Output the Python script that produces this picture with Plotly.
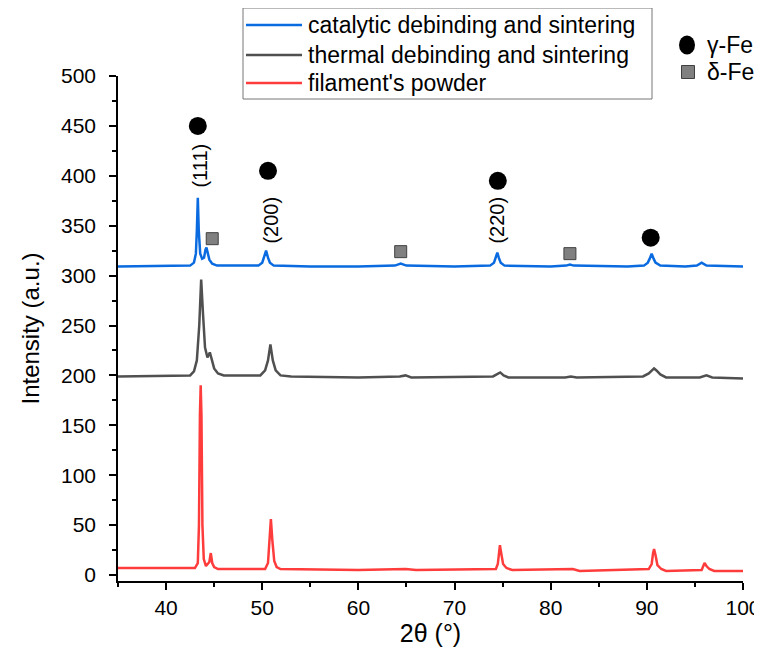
import plotly.graph_objects as go

# ---- data ----
blue_x = [35, 42.5, 42.9, 43.1, 43.2, 43.3, 43.4, 43.55, 43.75, 43.95, 44.1, 44.2, 44.3, 44.5, 44.8, 45.3,
          47, 49.6, 50.0, 50.2, 50.4, 50.6, 50.8, 51.2, 55, 60, 63.8, 64.4, 65.0, 70, 73.7, 74.1, 74.3,
          74.45, 74.6, 74.8, 75.2, 80, 81.6, 82.0, 82.4, 88, 89.7, 90.1, 90.3, 90.5, 90.7, 90.9, 91.4,
          94, 95.2, 95.7, 96.2, 100]
blue_y = [309, 310, 313, 322, 345, 378, 345, 322, 317, 318, 326, 328, 324, 316, 312, 310,
          310, 310, 313, 318, 325, 318, 313, 310, 309, 309, 310, 312, 310, 309, 310, 313, 318,
          323, 318, 313, 310, 309, 310, 311, 310, 309, 310, 313, 317, 322, 317, 313, 310,
          309, 310, 313, 310, 309]

gray_x = [35, 42.5, 42.9, 43.2, 43.45, 43.65, 43.85, 44.05, 44.3, 44.55, 44.75, 45.0, 45.4, 46, 49.8, 50.3,
          50.6, 50.85, 51.1, 51.4, 51.9, 53, 60, 64.3, 64.9, 65.5, 74.0, 74.4, 74.75, 75.1, 75.6, 81.5,
          82.1, 82.7, 89.6, 90.2, 90.5, 90.75, 91.0, 91.4, 92, 95.5, 96.2, 96.8, 100]
gray_y = [199, 200, 204, 215, 250, 296, 260, 228, 218, 223, 216, 207, 202, 200, 200, 205,
          215, 231, 215, 205, 200, 199, 198, 199, 200, 198, 199, 201, 203, 200, 198, 198,
          199, 198, 199, 202, 205, 207, 205, 201, 198, 198, 200, 198, 197]

red_x = [35, 43.0, 43.3, 43.42, 43.52, 43.6, 43.68, 43.78, 43.92, 44.15, 44.5, 44.65, 44.8, 45.0, 45.4, 50.3,
         50.6, 50.75, 50.9, 51.05, 51.25, 51.5, 51.9, 60, 64.9, 66, 74.3, 74.5, 74.62, 74.72, 74.85,
         75.05, 75.4, 76, 82.3, 83, 90.2, 90.5, 90.65, 90.75, 90.9, 91.1, 91.5, 92, 95.7, 95.9, 96.0,
         96.2, 96.5, 97, 100]
red_y = [7, 7, 12, 50, 160, 190, 160, 50, 16, 9, 13, 22, 12, 8, 6, 6,
         12, 35, 56, 35, 14, 8, 6, 5, 6, 5, 6, 11, 24, 30, 22, 11, 7, 5, 6, 4, 6, 11, 22, 26, 20,
         10, 6, 4, 5, 9, 12, 9, 6, 4, 4]

gamma_x = [43.3, 50.6, 74.5, 90.4]
gamma_y = [450, 405, 395, 338]
delta_x = [44.8, 64.4, 82.0]
delta_y = [337, 324, 322]

hkl_labels = ["(111)", "(200)", "(220)"]
hkl_x = [43.5, 50.9, 74.4]
hkl_y = [410, 356, 356]

series_names = ["catalytic debinding and sintering", "thermal debinding and sintering", "filament's powder"]
series_colors = ["#0a6be0", "#505050", "#ff3c3c"]
phase_names = ["γ-Fe", "δ-Fe"]

FONT = "Liberation Sans, Arial, sans-serif"

# plot-area geometry (screen px) used to place the hand-drawn legend in paper coordinates
PX0, PW, PY0, PH = 118, 625, 581, 505
def px(x):
    return (x - PX0) / PW
def py(y):
    return (PY0 - y) / PH

fig = go.Figure()
for nm, xs, ys, c in zip(series_names, [blue_x, gray_x, red_x], [blue_y, gray_y, red_y], series_colors):
    fig.add_trace(go.Scatter(x=xs, y=ys, mode="lines", name=nm, line=dict(color=c, width=2.5)))

fig.add_trace(go.Scatter(x=gamma_x, y=gamma_y, mode="markers", name=phase_names[0],
                         marker=dict(symbol="circle", size=18, color="black")))
fig.add_trace(go.Scatter(x=delta_x, y=delta_y, mode="markers", name=phase_names[1],
                         marker=dict(symbol="square", size=12, color="#808080",
                                     line=dict(color="#404040", width=1))))

for t, x, y in zip(hkl_labels, hkl_x, hkl_y):
    fig.add_annotation(x=x, y=y, text=t, textangle=-90, showarrow=False,
                       font=dict(family=FONT, size=20, color="black"))

# ---- legend box for the three patterns ----
shapes = [dict(type="rect", xref="paper", yref="paper", x0=px(243), x1=px(652), y0=py(99), y1=py(8),
               line=dict(color="#777777", width=1), fillcolor="white", layer="above")]
row_y = [25, 55, 83]
for nm, c, ry in zip(series_names, series_colors, row_y):
    shapes.append(dict(type="line", xref="paper", yref="paper", x0=px(246), x1=px(302), y0=py(ry), y1=py(ry),
                       line=dict(color=c, width=2.5), layer="above"))
    fig.add_annotation(xref="paper", yref="paper", x=px(306), y=py(ry), text=nm, showarrow=False,
                       xanchor="left", yanchor="middle", font=dict(family=FONT, size=23, color="black"))

# ---- legend for phases ----
shapes.append(dict(type="circle", xref="paper", yref="paper", xsizemode="pixel", ysizemode="pixel",
                   xanchor=px(687), yanchor=py(45), x0=-8, x1=8, y0=-9.5, y1=9.5,
                   fillcolor="black", line=dict(color="black", width=0), layer="above"))
shapes.append(dict(type="rect", xref="paper", yref="paper", xsizemode="pixel", ysizemode="pixel",
                   xanchor=px(688), yanchor=py(72), x0=-6.5, x1=6.5, y0=-6.5, y1=6.5,
                   fillcolor="#808080", line=dict(color="#404040", width=1), layer="above"))
for nm, ry in zip(phase_names, [45, 72]):
    fig.add_annotation(xref="paper", yref="paper", x=px(705), y=py(ry), text=nm, showarrow=False,
                       xanchor="left", yanchor="middle", font=dict(family=FONT, size=23, color="black"))

axis_common = dict(showline=True, linecolor="black", linewidth=1.5, ticks="outside", ticklen=7,
                   tickwidth=1.5, tickcolor="black", showgrid=False, zeroline=False,
                   tickfont=dict(family=FONT, size=21, color="black"), mirror=False, automargin=False)

fig.update_xaxes(range=[35, 100], dtick=10, tick0=40, ticklabelstandoff=0,
                 minor=dict(dtick=5, ticks="outside", ticklen=4, tickcolor="black", tickwidth=1.5),
                 title=dict(text="2θ (°)", font=dict(family=FONT, size=25, color="black"), standoff=4),
                 **axis_common)
fig.update_yaxes(range=[-6, 500], dtick=50, tick0=0, ticklabelstandoff=9,
                 minor=dict(dtick=25, ticks="outside", ticklen=4, tickcolor="black", tickwidth=1.5),
                 title=dict(text="Intensity (a.u.)", font=dict(family=FONT, size=24, color="black"),
                            standoff=15),
                 **axis_common)

fig.update_layout(
    width=754, height=653,
    margin=dict(l=110, r=19, t=68, b=80, autoexpand=False),
    plot_bgcolor="white", paper_bgcolor="white",
    font=dict(family=FONT, color="black"),
    shapes=shapes,
    showlegend=False,
)

fig.write_html("out.html")
